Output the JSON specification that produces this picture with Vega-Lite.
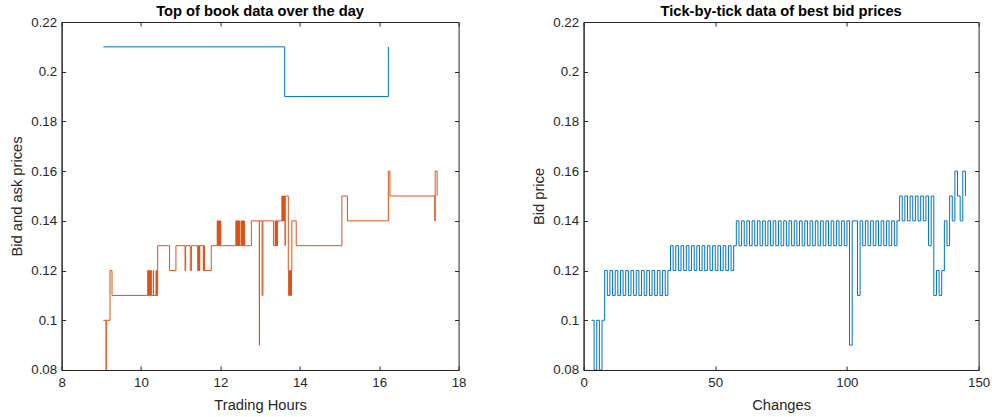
{
  "$schema": "https://vega.github.io/schema/vega-lite/v6.json",
  "background": "white",
  "padding": {"left": 8.6, "top": 3, "right": 3, "bottom": 4},
  "bounds": "flush",
  "spacing": 125,
  "config": {
    "font": "Liberation Sans",
    "view": {"stroke": "#262626", "strokeWidth": 1},
    "axis": {"grid": false, "domainColor": "#262626", "tickColor": "#262626", "labelColor": "#262626", "titleColor": "#262626", "labelFontSize": 13.3, "titleFontSize": 14.7, "titleFontWeight": "normal", "tickSize": -4},
    "axisX": {"labelPadding": 10, "titlePadding": 8, "labelFlush": false},
    "axisY": {"labelPadding": 9, "titlePadding": 6.4},
    "title": {"fontSize": 14.7, "fontWeight": "bold", "color": "#000000", "offset": -4}
  },
  "datasets": {
    "ask": [{"t": 9.05, "p": 0.21}, {"t": 13.62, "p": 0.19}, {"t": 16.23, "p": 0.21}],
    "bid": [
      {"t": 9.05, "p": 0.10}, {"t": 9.12, "p": 0.08}, {"t": 9.125, "p": 0.10}, {"t": 9.22, "p": 0.12}, {"t": 9.27, "p": 0.11},
      {"t": 10.17, "p": 0.12}, {"t": 10.18, "p": 0.11}, {"t": 10.19, "p": 0.12}, {"t": 10.20, "p": 0.11}, {"t": 10.21, "p": 0.12}, {"t": 10.22, "p": 0.11}, {"t": 10.23, "p": 0.12}, {"t": 10.24, "p": 0.11}, {"t": 10.25, "p": 0.12}, {"t": 10.26, "p": 0.11},
      {"t": 10.31, "p": 0.12}, {"t": 10.315, "p": 0.11}, {"t": 10.38, "p": 0.12}, {"t": 10.385, "p": 0.11}, {"t": 10.40, "p": 0.12}, {"t": 10.405, "p": 0.11},
      {"t": 10.42, "p": 0.13}, {"t": 10.72, "p": 0.12}, {"t": 10.88, "p": 0.13}, {"t": 11.11, "p": 0.12}, {"t": 11.125, "p": 0.13}, {"t": 11.24, "p": 0.12}, {"t": 11.27, "p": 0.13},
      {"t": 11.43, "p": 0.12}, {"t": 11.44, "p": 0.13}, {"t": 11.45, "p": 0.12}, {"t": 11.46, "p": 0.13}, {"t": 11.47, "p": 0.12}, {"t": 11.48, "p": 0.13},
      {"t": 11.57, "p": 0.12}, {"t": 11.58, "p": 0.13}, {"t": 11.60, "p": 0.12}, {"t": 11.77, "p": 0.13},
      {"t": 11.92, "p": 0.14}, {"t": 11.93, "p": 0.13}, {"t": 11.94, "p": 0.14}, {"t": 11.95, "p": 0.13}, {"t": 11.96, "p": 0.14}, {"t": 11.97, "p": 0.13}, {"t": 11.98, "p": 0.14}, {"t": 11.99, "p": 0.13}, {"t": 12.00, "p": 0.14}, {"t": 12.01, "p": 0.13},
      {"t": 12.39, "p": 0.14}, {"t": 12.40, "p": 0.13}, {"t": 12.41, "p": 0.14}, {"t": 12.42, "p": 0.13}, {"t": 12.43, "p": 0.14}, {"t": 12.44, "p": 0.13}, {"t": 12.45, "p": 0.14}, {"t": 12.46, "p": 0.13}, {"t": 12.47, "p": 0.14}, {"t": 12.48, "p": 0.13},
      {"t": 12.52, "p": 0.14}, {"t": 12.53, "p": 0.13}, {"t": 12.54, "p": 0.14}, {"t": 12.55, "p": 0.13}, {"t": 12.56, "p": 0.14}, {"t": 12.57, "p": 0.13}, {"t": 12.58, "p": 0.14}, {"t": 12.59, "p": 0.13}, {"t": 12.60, "p": 0.14}, {"t": 12.61, "p": 0.13},
      {"t": 12.78, "p": 0.14}, {"t": 12.98, "p": 0.09}, {"t": 12.985, "p": 0.14}, {"t": 13.05, "p": 0.11}, {"t": 13.07, "p": 0.14},
      {"t": 13.34, "p": 0.13}, {"t": 13.38, "p": 0.14}, {"t": 13.39, "p": 0.13}, {"t": 13.40, "p": 0.14}, {"t": 13.41, "p": 0.13}, {"t": 13.42, "p": 0.14}, {"t": 13.43, "p": 0.13}, {"t": 13.44, "p": 0.14},
      {"t": 13.55, "p": 0.15}, {"t": 13.56, "p": 0.14}, {"t": 13.57, "p": 0.15}, {"t": 13.58, "p": 0.14}, {"t": 13.59, "p": 0.15}, {"t": 13.60, "p": 0.14}, {"t": 13.61, "p": 0.15}, {"t": 13.62, "p": 0.14}, {"t": 13.63, "p": 0.13}, {"t": 13.635, "p": 0.15},
      {"t": 13.71, "p": 0.12}, {"t": 13.72, "p": 0.11}, {"t": 13.73, "p": 0.12}, {"t": 13.74, "p": 0.11}, {"t": 13.75, "p": 0.12}, {"t": 13.76, "p": 0.11}, {"t": 13.77, "p": 0.12}, {"t": 13.78, "p": 0.11}, {"t": 13.79, "p": 0.12},
      {"t": 13.80, "p": 0.14}, {"t": 13.91, "p": 0.13}, {"t": 15.06, "p": 0.15}, {"t": 15.20, "p": 0.14}, {"t": 16.23, "p": 0.16}, {"t": 16.27, "p": 0.15}, {"t": 17.40, "p": 0.14}, {"t": 17.41, "p": 0.16}, {"t": 17.46, "p": 0.15}
    ],
    "tick": [
      {"i": 3, "p": 0.10}, {"i": 4, "p": 0.08}, {"i": 5, "p": 0.10}, {"i": 6, "p": 0.08}, {"i": 7, "p": 0.10},
      {"i": 8, "p": 0.12}, {"i": 9, "p": 0.11}, {"i": 10, "p": 0.12}, {"i": 11, "p": 0.11}, {"i": 12, "p": 0.12}, {"i": 13, "p": 0.11}, {"i": 14, "p": 0.12}, {"i": 15, "p": 0.11}, {"i": 16, "p": 0.12}, {"i": 17, "p": 0.11}, {"i": 18, "p": 0.12}, {"i": 19, "p": 0.11}, {"i": 20, "p": 0.12}, {"i": 21, "p": 0.11}, {"i": 22, "p": 0.12}, {"i": 23, "p": 0.11}, {"i": 24, "p": 0.12}, {"i": 25, "p": 0.11}, {"i": 26, "p": 0.12}, {"i": 27, "p": 0.11}, {"i": 28, "p": 0.12}, {"i": 29, "p": 0.11}, {"i": 30, "p": 0.12}, {"i": 31, "p": 0.11}, {"i": 32, "p": 0.12},
      {"i": 33, "p": 0.13}, {"i": 34, "p": 0.12}, {"i": 35, "p": 0.13}, {"i": 36, "p": 0.12}, {"i": 37, "p": 0.13}, {"i": 38, "p": 0.12}, {"i": 39, "p": 0.13}, {"i": 40, "p": 0.12}, {"i": 41, "p": 0.13}, {"i": 42, "p": 0.12}, {"i": 43, "p": 0.13}, {"i": 44, "p": 0.12}, {"i": 45, "p": 0.13}, {"i": 46, "p": 0.12}, {"i": 47, "p": 0.13}, {"i": 48, "p": 0.12}, {"i": 49, "p": 0.13}, {"i": 50, "p": 0.12}, {"i": 51, "p": 0.13}, {"i": 52, "p": 0.12}, {"i": 53, "p": 0.13}, {"i": 54, "p": 0.12}, {"i": 55, "p": 0.13}, {"i": 56, "p": 0.12}, {"i": 57, "p": 0.13},
      {"i": 58, "p": 0.14}, {"i": 59, "p": 0.13}, {"i": 60, "p": 0.14}, {"i": 61, "p": 0.13}, {"i": 62, "p": 0.14}, {"i": 63, "p": 0.13}, {"i": 64, "p": 0.14}, {"i": 65, "p": 0.13}, {"i": 66, "p": 0.14}, {"i": 67, "p": 0.13}, {"i": 68, "p": 0.14}, {"i": 69, "p": 0.13}, {"i": 70, "p": 0.14}, {"i": 71, "p": 0.13}, {"i": 72, "p": 0.14}, {"i": 73, "p": 0.13}, {"i": 74, "p": 0.14}, {"i": 75, "p": 0.13}, {"i": 76, "p": 0.14}, {"i": 77, "p": 0.13}, {"i": 78, "p": 0.14}, {"i": 79, "p": 0.13}, {"i": 80, "p": 0.14}, {"i": 81, "p": 0.13}, {"i": 82, "p": 0.14}, {"i": 83, "p": 0.13}, {"i": 84, "p": 0.14}, {"i": 85, "p": 0.13}, {"i": 86, "p": 0.14}, {"i": 87, "p": 0.13}, {"i": 88, "p": 0.14}, {"i": 89, "p": 0.13}, {"i": 90, "p": 0.14}, {"i": 91, "p": 0.13}, {"i": 92, "p": 0.14}, {"i": 93, "p": 0.13}, {"i": 94, "p": 0.14}, {"i": 95, "p": 0.13}, {"i": 96, "p": 0.14}, {"i": 97, "p": 0.13}, {"i": 98, "p": 0.14}, {"i": 99, "p": 0.13}, {"i": 100, "p": 0.14},
      {"i": 101, "p": 0.09}, {"i": 102, "p": 0.14}, {"i": 103, "p": 0.14}, {"i": 104, "p": 0.11},
      {"i": 105, "p": 0.14}, {"i": 106, "p": 0.13}, {"i": 107, "p": 0.14}, {"i": 108, "p": 0.13}, {"i": 109, "p": 0.14}, {"i": 110, "p": 0.13}, {"i": 111, "p": 0.14}, {"i": 112, "p": 0.13}, {"i": 113, "p": 0.14}, {"i": 114, "p": 0.13}, {"i": 115, "p": 0.14}, {"i": 116, "p": 0.13}, {"i": 117, "p": 0.14}, {"i": 118, "p": 0.13}, {"i": 119, "p": 0.14},
      {"i": 120, "p": 0.15}, {"i": 121, "p": 0.14}, {"i": 122, "p": 0.15}, {"i": 123, "p": 0.14}, {"i": 124, "p": 0.15}, {"i": 125, "p": 0.14}, {"i": 126, "p": 0.15}, {"i": 127, "p": 0.14}, {"i": 128, "p": 0.15}, {"i": 129, "p": 0.14}, {"i": 130, "p": 0.15}, {"i": 131, "p": 0.13}, {"i": 132, "p": 0.15},
      {"i": 133, "p": 0.11}, {"i": 134, "p": 0.12}, {"i": 135, "p": 0.11}, {"i": 136, "p": 0.12}, {"i": 137, "p": 0.14}, {"i": 138, "p": 0.13}, {"i": 139, "p": 0.15}, {"i": 140, "p": 0.14}, {"i": 141, "p": 0.16}, {"i": 142, "p": 0.15}, {"i": 143, "p": 0.14}, {"i": 144, "p": 0.16}, {"i": 145, "p": 0.15}
    ]
  },
  "hconcat": [
    {
      "width": 397,
      "height": 348,
      "title": "Top of book data over the day",
      "layer": [
        {
          "data": {"name": "ask"},
          "mark": {"type": "line", "interpolate": "step-after", "color": "#0072BD", "strokeWidth": 1, "clip": true},
          "encoding": {
            "x": {"field": "t", "type": "quantitative", "scale": {"domain": [8, 18], "nice": false}, "axis": {"title": "Trading Hours", "values": [8, 10, 12, 14, 16, 18]}},
            "y": {"field": "p", "type": "quantitative", "scale": {"domain": [0.08, 0.22], "nice": false, "zero": false}, "axis": {"title": "Bid and ask prices", "values": [0.08, 0.1, 0.12, 0.14, 0.16, 0.18, 0.2, 0.22], "format": ".2~f"}}
          }
        },
        {
          "data": {"name": "bid"},
          "mark": {"type": "line", "interpolate": "step-after", "color": "#D95319", "strokeWidth": 1, "clip": true},
          "encoding": {
            "x": {"field": "t", "type": "quantitative", "axis": null},
            "y": {"field": "p", "type": "quantitative", "axis": null}
          }
        },
        {
          "data": {"name": "ask"},
          "mark": {"type": "line", "opacity": 0},
          "encoding": {
            "x": {"field": "t", "type": "quantitative", "axis": {"orient": "top", "labels": false, "title": null, "domain": false, "values": [8, 10, 12, 14, 16, 18]}},
            "y": {"field": "p", "type": "quantitative", "axis": {"orient": "right", "labels": false, "title": null, "domain": false, "values": [0.08, 0.1, 0.12, 0.14, 0.16, 0.18, 0.2, 0.22]}}
          }
        }
      ],
      "resolve": {"axis": {"x": "independent", "y": "independent"}}
    },
    {
      "width": 395,
      "height": 348,
      "title": "Tick-by-tick data of best bid prices",
      "layer": [
        {
          "data": {"name": "tick"},
          "mark": {"type": "line", "interpolate": "step-after", "color": "#0072BD", "strokeWidth": 1, "clip": true},
          "encoding": {
            "x": {"field": "i", "type": "quantitative", "scale": {"domain": [0, 150], "nice": false}, "axis": {"title": "Changes", "values": [0, 50, 100, 150]}},
            "y": {"field": "p", "type": "quantitative", "scale": {"domain": [0.08, 0.22], "nice": false, "zero": false}, "axis": {"title": "Bid price", "values": [0.08, 0.1, 0.12, 0.14, 0.16, 0.18, 0.2, 0.22], "format": ".2~f"}}
          }
        },
        {
          "data": {"name": "tick"},
          "mark": {"type": "line", "opacity": 0},
          "encoding": {
            "x": {"field": "i", "type": "quantitative", "axis": {"orient": "top", "labels": false, "title": null, "domain": false, "values": [0, 50, 100, 150]}},
            "y": {"field": "p", "type": "quantitative", "axis": {"orient": "right", "labels": false, "title": null, "domain": false, "values": [0.08, 0.1, 0.12, 0.14, 0.16, 0.18, 0.2, 0.22]}}
          }
        }
      ],
      "resolve": {"axis": {"x": "independent", "y": "independent"}}
    }
  ]
}
